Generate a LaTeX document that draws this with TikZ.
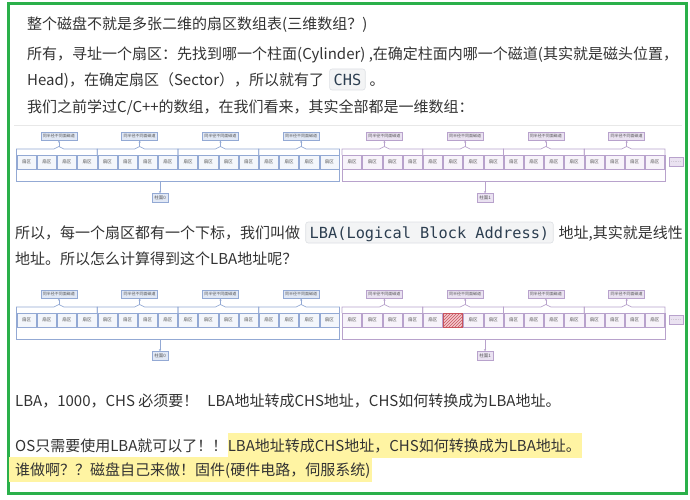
\documentclass[tikz,border=0pt]{standalone}
\usepackage{fontspec}
\setmainfont{Noto Sans CJK SC}
\newfontfamily\codefont{DejaVu Sans Mono}
\usetikzlibrary{calc,patterns,arrows.meta}
\definecolor{frame}{HTML}{2AB04A}
\definecolor{txt}{HTML}{333333}
\definecolor{hl}{HTML}{FFF4A3}
\definecolor{codebg}{HTML}{F3F4F5}
\definecolor{codeborder}{HTML}{DDE0E4}
\definecolor{codetxt}{HTML}{2C3E50}
\definecolor{bline}{HTML}{93A9D4}
\definecolor{bfill}{HTML}{E1E8F5}
\definecolor{bcell}{HTML}{F3F6FB}
\definecolor{pline}{HTML}{B8A2CC}
\definecolor{pfill}{HTML}{EAE2F1}
\definecolor{pcell}{HTML}{F7F3FA}
\definecolor{rline}{HTML}{C9545E}
\definecolor{rfill}{HTML}{F3C9CD}
\definecolor{tiny}{HTML}{555555}
\definecolor{rule}{HTML}{E8E8E8}
\tikzset{
  ln/.style={anchor=base west, inner sep=0pt, text=txt},
  code/.style={anchor=base west, draw=codeborder, fill=codebg, rounded corners=2.5pt,
    inner xsep=4pt, inner ysep=1.5pt, text height=15pt, text depth=3pt,
    font=\codefont\fontsize{15.3}{18}\selectfont, text=codetxt, line width=0.6pt},
  hlbox/.style={anchor=base west, fill=hl, inner xsep=0pt, inner ysep=0pt,
    text height=18.5pt, text depth=6.5pt, text=txt},
  lab/.style={font=\fontsize{4}{5}\selectfont, text=tiny, inner sep=0pt,
    minimum width=36pt, minimum height=8.5pt, line width=0.5pt},
  cellst/.style={font=\fontsize{4.5}{5}\selectfont, text=tiny, inner sep=0pt,
    minimum width=19.2pt, minimum height=14pt, line width=0.5pt},
  cylst/.style={font=\fontsize{4.5}{5}\selectfont, text=tiny, inner sep=0pt,
    minimum width=16pt, minimum height=9pt, line width=0.5pt},
  tip/.style={-{Stealth[length=2.2pt,width=2.2pt]}, line width=0.6pt}
}
\newcommand\diskrow[2]{%
\begin{scope}[shift={(0,#2)}]
\foreach \h/\x/\col/\fil/\cel/\cyl/\cx in {0/16.5/bline/bfill/bcell/柱面0/160,1/342/pline/pfill/pcell/柱面1/485}{
  \foreach \g in {0,...,3}{
    \pgfmathsetmacro\gx{\x+\g*80.75}
    \pgfmathsetmacro\gc{\gx+42.4}
    \node[lab, draw=\col, fill=\fil] (#1l\h\g) at (\gc,136) {同半径不同面磁道};
    \draw[\col, line width=0.6pt] (\gx,155) -- (\gx,149) -- (\gc-5,149) -- (\gc,146.5) -- (\gc+5,149) -- (\gx+80.75,149) -- (\gx+80.75,155);
    \coordinate (#1b\h\g) at (\gc,146.5);
    \draw[\col, tip] (#1b\h\g) -- (#1l\h\g.south);
    \foreach \k in {0,...,3}{
      \node[cellst, draw=\col, fill=\cel] (#1c\h\g\k) at (\gx+10.1+\k*20.19,162) {扇区};
    }
  }
  \draw[\col, line width=0.6pt] (\x,155) -- (\x,181) -- (\x+323,181) -- (\x+323,155);
  \coordinate (#1o\h) at (\cx,181);
  \node[cylst, draw=\col, fill=\fil] (#1y\h) at (\cx,198) {\cyl};
  \draw[\col, tip] (#1o\h) -- (#1y\h.north);
}
\node[cylst, draw=pline, fill=pfill, minimum width=14pt] (#1m) at (676,162) {……};
\end{scope}}
\begin{document}
\begin{tikzpicture}[x=1pt,y=-1pt]
\useasboundingbox (0,0) rectangle (690,500);
\fill[white] (0,0) rectangle (690,500);
\draw[frame, line width=3pt] (8,3.5) rectangle (686,493);
\fontsize{15}{18}\selectfont
% text lines
\node[ln] (t1) at (27,30) {整个磁盘不就是多张二维的扇区数组表(三维数组？)};
\node[ln] (t2) at (27,59.5) {所有，寻址一个扇区：先找到哪一个柱面(Cylinder) ,在确定柱面内哪一个磁道(其实就是磁头位置，};
\node[ln] (t3a) at (27,85.5) {Head)，在确定扇区（Sector），所以就有了};
\node[code] (t3b) at ($(t3a.base east)+(5,0)$) {CHS};
\node[ln] (t3c) at ($(t3b.base east)+(4,0)$) {。};
\node[ln] (t4) at (27,112.5) {我们之前学过C/C++的数组，在我们看来，其实全部都是一维数组：};
\draw[rule, line width=0.8pt] (14,125) -- (682,125);
% diagrams
\diskrow{A}{0}
\diskrow{B}{158}
\node[cellst, draw=rline, fill=rfill, postaction={pattern=north east lines, pattern color=rline}] (Bhot) at (Bc111.center) {};
% more text
\node[ln] (t5a) at (15,238.5) {所以，每一个扇区都有一个下标，我们叫做};
\node[code] (t5b) at ($(t5a.base east)+(5,0)$) {LBA(Logical Block Address)};
\node[ln] (t5c) at ($(t5b.base east)+(5,0)$) {地址,其实就是线性};
\node[ln] (t6) at (15,264.5) {地址。所以怎么计算得到这个LBA地址呢？};
\node[ln] (t7) at (15,406.5) {LBA，1000，CHS 必须要！\hspace{9pt}LBA地址转成CHS地址，CHS如何转换成为LBA地址。};
\node[ln] (t8a) at (15,451.5) {OS只需要使用LBA就可以了！！};
\node[hlbox] (t8b) at (t8a.base east) {LBA地址转成CHS地址，CHS如何转换成为LBA地址。\hspace*{1pt}};
\node[hlbox] (t9) at (9,475.5) {\hspace*{6pt}谁做啊？？磁盘自己来做！固件(硬件电路，伺服系统)\hspace*{2pt}};
\end{tikzpicture}
\end{document}
